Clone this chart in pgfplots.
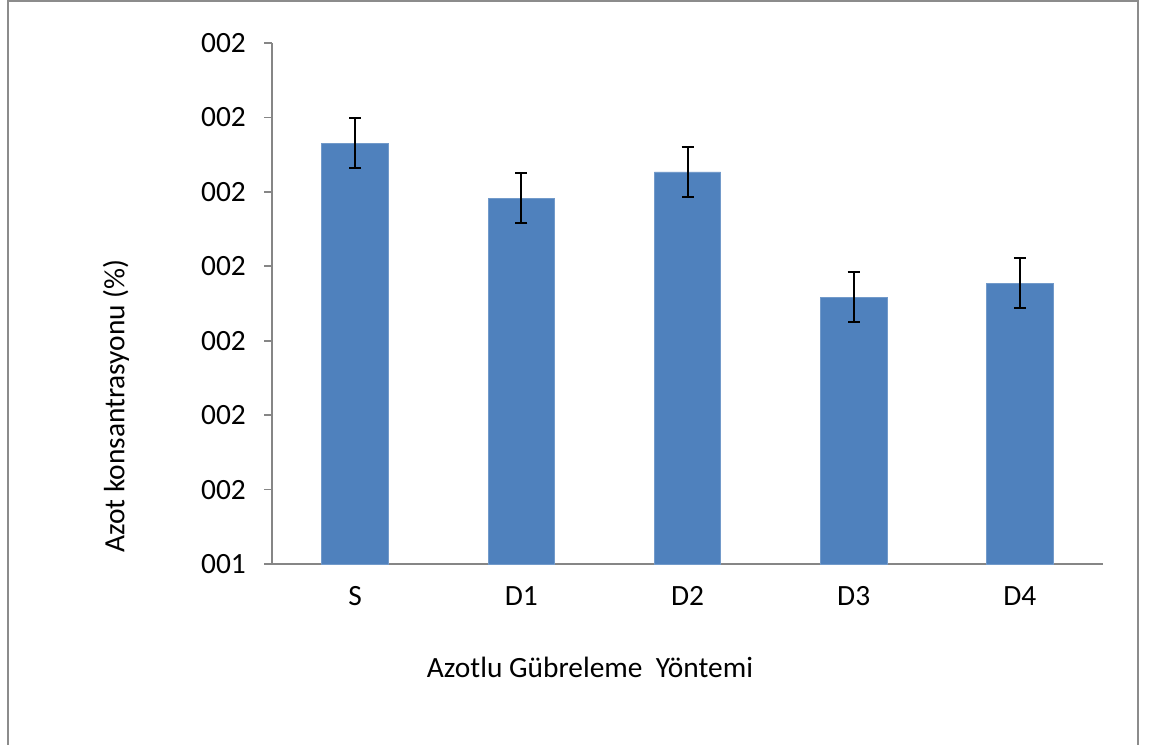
\documentclass[border=0pt]{standalone}
\usepackage{pgfplots}
\pgfplotsset{compat=1.18}
\usepackage{fontspec}
\setmainfont{Carlito}
\definecolor{barblue}{HTML}{4F81BD}
\definecolor{axgray}{HTML}{868686}
\definecolor{framegray}{HTML}{8C8C8C}
\newcommand{\chartfont}{\fontsize{14.7pt}{17pt}\selectfont}
\begin{document}
\chartfont
\begin{tikzpicture}
\path[use as bounding box] (-136pt,-90pt) rectangle (438.5pt,282pt);
\draw[framegray, line width=1pt] (-132pt,-95pt) -- (-132pt,281.25pt) -- (433pt,281.25pt) -- (433pt,-95pt);
\begin{axis}[
  at={(0pt,0pt)}, anchor=south west,
  scale only axis,
  width=415.5pt, height=260.5pt,
  xmin=-0.5, xmax=4.5, ymin=0, ymax=7,
  axis lines*=left,
  axis line style={axgray, line width=0.9pt},
  every tick/.style={axgray, line width=0.9pt},
  xtick={0,1,2,3,4},
  xticklabels={S,D1,D2,D3,D4},
  major x tick style={draw=none},
  extra x ticks={-0.5,0.5,1.5,2.5,3.5,4.5},
  extra x tick labels={},
  extra x tick style={tick style={axgray, line width=0.9pt}, major tick length=4pt, tick align=outside},
  ytick={0,1,2,3,4,5,6,7},
  yticklabels={001,002,002,002,002,002,002,002},
  tick align=outside,
  major tick length=4pt,
  ticklabel style={font=\chartfont},
  xticklabel style={yshift=-2pt},
  yticklabel style={xshift=-4pt},
  /pgf/number format/assume math mode=true,
  clip=false,
]
\addplot[ybar, bar width=0.4, fill=barblue, draw=barblue!80!white, line width=0.4pt,
  error bars/.cd, y dir=both, y explicit,
  error bar style={black, line width=1pt},
  error mark options={black, line width=1pt, mark size=3pt, rotate=90}]
coordinates {
  (0,5.656) +- (0,0.33)
  (1,4.917) +- (0,0.33)
  (2,5.267) +- (0,0.33)
  (3,3.587) +- (0,0.33)
  (4,3.775) +- (0,0.33)
};
\end{axis}
\node[rotate=90, font=\chartfont] at (-78pt,79pt) {Azot konsantrasyonu (\%)};
\node[font=\chartfont] at (159pt,-51.5pt) {Azotlu Gübreleme\ \ Yöntemi};
\end{tikzpicture}
\end{document}
